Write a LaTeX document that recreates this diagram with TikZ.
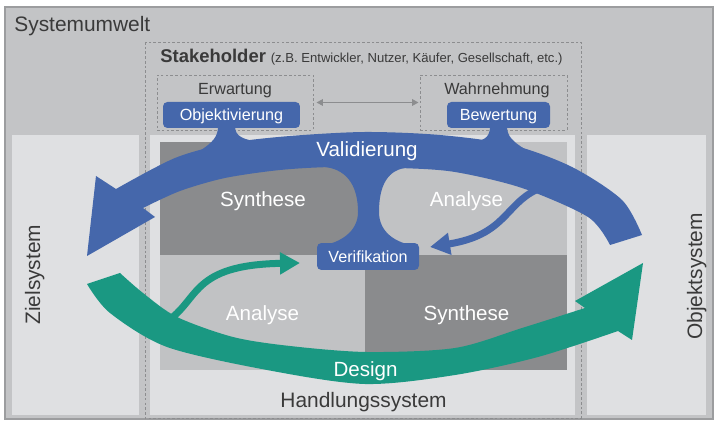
\documentclass[tikz,border=0pt]{standalone}
\usepackage{fontspec}
\setmainfont{Liberation Sans}
\usetikzlibrary{arrows.meta}

\definecolor{valblue}{HTML}{4567AB}
\definecolor{desgreen}{HTML}{1A9882}
\definecolor{celldark}{HTML}{8A8B8D}
\definecolor{celllight}{HTML}{C1C2C4}
\definecolor{syslight}{HTML}{DFE0E2}
\definecolor{envgray}{HTML}{C3C4C6}
\definecolor{bordergray}{HTML}{9C9D9F}
\definecolor{framegray}{HTML}{8C8D8F}
\definecolor{textgray}{HTML}{3A3A3A}

\begin{document}
\begin{tikzpicture}[x=0.02cm, y=-0.02cm,
  systext/.style={text=textgray, inner sep=0pt, font=\fontsize{11.9}{14}\selectfont},
  smalltext/.style={text=textgray, inner sep=0pt, font=\fontsize{9.2}{11}\selectfont},
  celltext/.style={text=white, inner sep=0pt, font=\fontsize{11.7}{14}\selectfont},
  tag/.style={rectangle, rounded corners=2.5pt, fill=valblue, text=white, inner sep=0pt, text height=6.6pt, text depth=0pt, minimum height=0.52cm, font=\fontsize{9.2}{11}\selectfont},
  viewbox/.style={rectangle, draw=framegray, dash pattern=on 1.5pt off 1.2pt, line width=0.5pt, minimum height=1.1cm},
  sysbox/.style={fill=syslight},
  bigtip/.style={-{Triangle[length=0.4cm, width=0.42cm]}, line width=0.14cm}]

  \useasboundingbox (0,0) rectangle (715,421);
  \fill[white] (0,0) rectangle (715,421);
  \draw[fill=envgray, draw=bordergray, line width=0.8pt] (5,7) rectangle (713,419);
  \fill[sysbox] (12,135) rectangle (139,415);
  \fill[sysbox] (150,135) rectangle (575,415);
  \fill[sysbox] (587,135) rectangle (706,415);
  \fill[celldark] (160,142) rectangle (365,255);
  \fill[celllight] (365,142) rectangle (567,255);
  \fill[celllight] (160,255) rectangle (365,370);
  \fill[celldark] (365,255) rectangle (567,370);
  \draw[framegray, dash pattern=on 1.5pt off 1.2pt, line width=0.5pt] (145,42) rectangle (581,418);

  \node[viewbox, minimum width=3.12cm] (erwbox) at (235,102.5) {};
  \node[viewbox, minimum width=2.94cm] (wahrbox) at (493.5,102.5) {};
  \draw[{Triangle[length=0.13cm, width=0.13cm]}-{Triangle[length=0.13cm, width=0.13cm]}, framegray, line width=0.9pt, shorten <=0.06cm, shorten >=0.02cm] (erwbox) -- (wahrbox);

  \fill[valblue] plot[smooth] coordinates {(642,235) (622,200) (572,167) (512,145) (440,135) (365,132) (290,136) (230,143) (175,158) (116,189)}
    -- (96,176) -- (87,256) -- (155,217) -- (143,208)
    -- plot[smooth] coordinates {(143,208) (180,191) (225,178) (280,170) (333,167) (400,168) (455,172) (522,188) (588,217) (610,245)} -- cycle;
  \fill[desgreen] plot[smooth] coordinates {(87,284) (110,313) (167,347) (267,370) (365,384) (455,375) (538,357) (618,331)}
    -- (632,340) -- (643,263) -- (575,301) -- (585,308)
    -- plot[smooth] coordinates {(585,308) (522,328) (455,348) (367,352) (290,346) (233,337) (177,317) (143,293) (120,273)} -- cycle;

  \fill[valblue] (198,152) .. controls (214,142) and (218,136) .. (218,126) -- (235,126) .. controls (235,136) and (242,140) .. (262,142) -- cycle;
  \fill[valblue] (474,142) .. controls (486,140) and (490,136) .. (490,126) -- (507,126) .. controls (507,136) and (512,142) .. (530,152) -- cycle;
  \fill[valblue] (300,160) -- (325,167) .. controls (350,170) and (358,190) .. (358,212) .. controls (358,232) and (340,243) .. (320,246)
    -- (416,246) .. controls (395,243) and (379,232) .. (379,212) .. controls (379,190) and (385,171) .. (405,168) -- (430,160) -- cycle;

  \coordinate (valtap) at (536,190);
  \coordinate (valtip) at (430,247);
  \coordinate (destap) at (166,322);
  \coordinate (destip) at (300,263);
  \draw[bigtip, valblue] (valtap) .. controls (505,205) and (505,235) .. (valtip);
  \draw[bigtip, desgreen] (destap) .. controls (200,300) and (190,265) .. (destip);

  \node[tag, minimum width=2.74cm] (objektiv) at (231.5,115) {Objektivierung};
  \node[tag, minimum width=2.06cm] (bewert) at (498.5,115) {Bewertung};
  \node[tag, minimum width=2.04cm, minimum height=0.54cm] (verif) at (368,256.5) {Verifikation};

  \node[systext, anchor=base west] (umwelt) at (14,32) {Systemumwelt};
  \node[text=textgray, inner sep=0pt, anchor=base west] (stake) at (160,63) {{\fontsize{10.5}{12}\selectfont\bfseries Stakeholder} {\fontsize{7.45}{9}\selectfont (z.B. Entwickler, Nutzer, Käufer, Gesellschaft, etc.)}};
  \node[smalltext, anchor=base] (erw) at (235,95) {Erwartung};
  \node[smalltext, anchor=base] (wahr) at (497,95) {Wahrnehmung};
  \node[celltext, anchor=base] (valid) at (367,157) {Validierung};
  \node[celltext, anchor=base] (syntop) at (263,207) {Synthese};
  \node[celltext, anchor=base] (anatop) at (466.5,207) {Analyse};
  \node[celltext, anchor=base] (anabot) at (262.5,320.5) {Analyse};
  \node[celltext, anchor=base] (synbot) at (466.5,320.5) {Synthese};
  \node[celltext, anchor=base] (design) at (365.5,376.5) {Design};
  \node[systext, anchor=base] (handlung) at (363.5,407.5) {Handlungssystem};
  \node[systext, anchor=base west, rotate=90] (ziel) at (40,325) {Zielsystem};
  \node[systext, anchor=base west, rotate=90] (objekt) at (702,340) {Objektsystem};
\end{tikzpicture}
\end{document}
